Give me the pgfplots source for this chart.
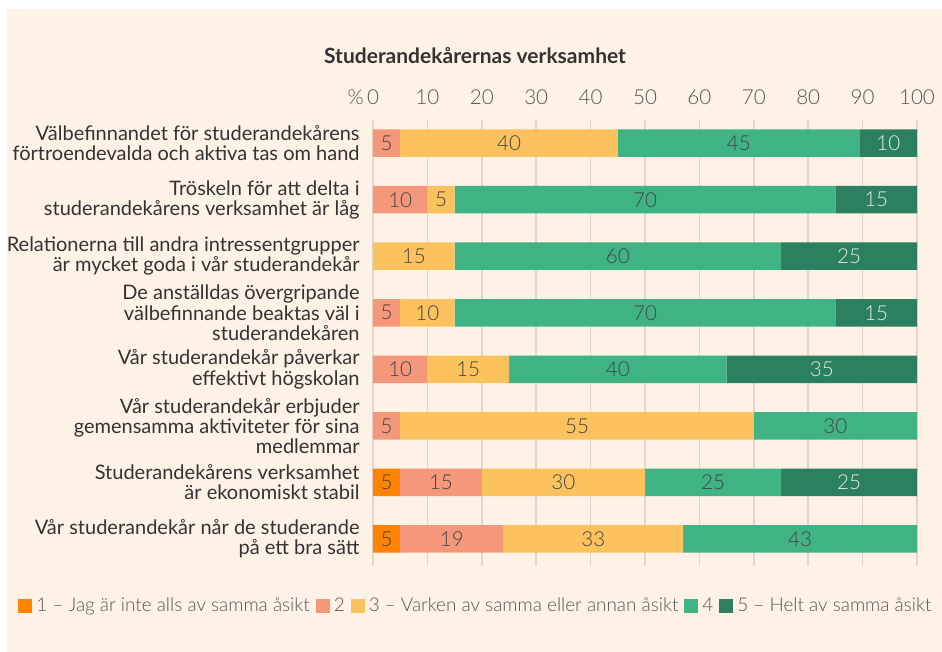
\documentclass[border=0pt]{standalone}
\usepackage{fontspec}
\setmainfont{Lato}
\IfFontExistsTF{Lato Light}{\newfontfamily\thin{Lato Light}}{\newfontfamily\thin{Lato}}
\usepackage{pgfplots}
\usepackage{pgfplotstable}
\pgfplotsset{compat=1.18}

\definecolor{bg}{HTML}{FEF1E6}
\definecolor{gridc}{HTML}{DDD7D1}
\definecolor{txt}{HTML}{333333}
\definecolor{tick}{HTML}{555555}
\definecolor{c1}{HTML}{FF8200}
\definecolor{c2}{HTML}{F4977B}
\definecolor{c3}{HTML}{FCC25E}
\definecolor{c4}{HTML}{40B384}
\definecolor{c5}{HTML}{2C8060}
\definecolor{darklab}{HTML}{454545}
\definecolor{lightlab}{HTML}{DDEEE6}

% widths a..e as drawn, labels la..le as printed
\pgfplotstableread{
y  a  b   c   d     e     la  lb  lc  ld  le
1  0  5   40  44.5  10.5  {}  5   40  45  10
2  0  10  5   70    15    {}  10  5   70  15
3  0  0   15  60    25    {}  {}  15  60  25
4  0  5   10  70    15    {}  5   10  70  15
5  0  10  15  40    35    {}  10  15  40  35
6  0  5   65  30    0     {}  5   55  30  {}
7  5  15  30  25    25    5   15  30  25  25
8  5  19  33  43    0     5   19  33  43  {}
}\rows

% compat 1.18 already centres nodes near coords in stacked bars
\pgfplotsset{
  seg/.style n args={3}{fill=#1, draw=none,
    nodes near coords, point meta=explicit symbolic,
    every node near coord/.style={anchor=center, inner sep=0pt, text=#3,
      font=\thin\fontsize{10.3}{10.3}\selectfont}},
}

\begin{document}
\begin{tikzpicture}
\fill[white] (0,0) rectangle (471pt,-326pt);
\fill[bg] (3.5pt,-4.5pt) rectangle (471pt,-326pt);
\node[font=\bfseries\fontsize{10.5}{12}\selectfont, text=txt] at (237.5pt,-28pt) {Studerandekårernas verksamhet};
\begin{axis}[
  at={(186.5pt,-60pt)}, anchor=north west,
  width=272pt, height=223pt, scale only axis,
  xbar stacked, bar width=13.75pt,
  xmin=0, xmax=100, ymin=0.59, ymax=8.48, y dir=reverse,
  axis x line*=top, axis y line*=left,
  axis line style={draw=none},
  major tick length=0pt, tick style={draw=none},
  xtick={0,10,...,100},
  xticklabels={\llap{\%\,}0,10,20,30,40,50,60,70,80,90,100},
  xticklabel style={inner sep=0pt, anchor=south, yshift=7.5pt, text=tick,
    font=\thin\fontsize{10.3}{10.3}\selectfont},
  ytick={1,...,8},
  yticklabels={
    {Välbefinnandet för studerandekårens\\förtroendevalda och aktiva tas om hand},
    {Tröskeln för att delta i\\studerandekårens verksamhet är låg},
    {Relationerna till andra intressentgrupper\\är mycket goda i vår studerandekår},
    {De anställdas övergripande\\välbefinnande beaktas väl i\\studerandekåren},
    {Vår studerandekår påverkar\\effektivt högskolan},
    {Vår studerandekår erbjuder\\gemensamma aktiviteter för sina\\medlemmar},
    {Studerandekårens verksamhet\\är ekonomiskt stabil},
    {Vår studerandekår når de studerande\\på ett bra sätt}},
  yticklabel style={align=right, inner sep=0pt, xshift=-6.5pt, text=txt,
    font=\fontsize{10}{10.1}\selectfont},
  xmajorgrids, grid style={draw=gridc, line width=0.75pt},
  legend image code/.code={\fill[#1] (0pt,-3.5pt) rectangle (7pt,3.5pt);},
  legend style={draw=none, fill=none, at={(axis description cs:-0.6526,-0.0897)},
    anchor=west, legend columns=-1, inner sep=0pt, text=tick,
    font=\thin\fontsize{9.45}{10}\selectfont,
    /tikz/every even column/.append style={column sep=1pt}},
]
\addplot[seg={c1}{a}{darklab}] table[x=a, y=y, meta=la] {\rows};
\addplot[seg={c2}{b}{darklab}] table[x=b, y=y, meta=lb] {\rows};
\addplot[seg={c3}{c}{darklab}] table[x=c, y=y, meta=lc] {\rows};
\addplot[seg={c4}{d}{darklab}] table[x=d, y=y, meta=ld] {\rows};
\addplot[seg={c5}{e}{lightlab}] table[x=e, y=y, meta=le] {\rows};
\legend{1 – Jag är inte alls av samma åsikt, 2, 3 – Varken av samma eller annan åsikt, 4, 5 – Helt av samma åsikt}
\end{axis}
\end{tikzpicture}
\end{document}
